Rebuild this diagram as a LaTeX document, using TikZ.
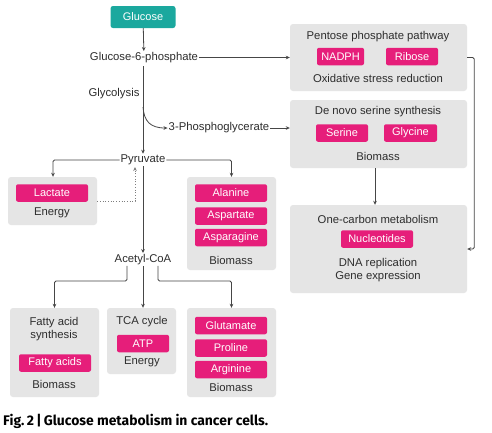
\documentclass[tikz,border=0pt]{standalone}
\usepackage{fontspec}
\setmainfont{Liberation Sans}
\newfontfamily\capfont{Fira Sans}
\usetikzlibrary{arrows.meta,calc}
\definecolor{teal1}{RGB}{27,168,158}
\definecolor{pink1}{RGB}{230,30,122}
\definecolor{boxgray}{RGB}{229,229,229}
\definecolor{txt}{RGB}{45,45,45}
\definecolor{ln}{RGB}{70,70,70}
\tikzset{
  lbl/.style={text=txt,font=\fontsize{11.3}{13}\selectfont,inner sep=1pt},
  graybox/.style={fill=boxgray,rounded corners=3pt,inner sep=0pt},
  pinkbox/.style={fill=pink1,text=white,rounded corners=2pt,inner sep=0pt,minimum height=17.5pt,font=\fontsize{11}{13}\selectfont},
  conn/.style={draw=ln,line width=0.8pt,-{Stealth[length=4pt,width=3.6pt]}},
  dotconn/.style={draw=ln!70,line width=0.7pt,dotted,-{Stealth[length=4pt,width=3.6pt]}}
}
\begin{document}
\begin{tikzpicture}[x=1pt,y={(0,-1pt)}]
\useasboundingbox[fill=white] (0,0) rectangle (492,432);
% main chain
\node[fill=teal1,text=white,rounded corners=2.5pt,minimum width=65pt,minimum height=22pt,inner sep=0pt,font=\fontsize{11}{13}\selectfont] (glc) at (143,17) {Glucose};
\node[lbl] (g6p) at (144,57.5) {Glucose-6-phosphate};
\node[lbl] (glyco) at (114,94) {Glycolysis};
\node[lbl] (pg3) at (219,128) {3-Phosphoglycerate};
\node[lbl] (pyr) at (143,160) {Pyruvate};
\node[lbl] (acoa) at (143,259.5) {Acetyl-CoA};
\coordinate (gstart) at (143,66);
\coordinate (branch) at (143,107);
\coordinate (dottop) at (135,167);
% right column
\node[graybox,minimum width=177pt,minimum height=67pt] (ppp) at (378.5,57.5) {};
\node[lbl] (ppptitle) at (378,37) {Pentose phosphate pathway};
\node[pinkbox,minimum width=47pt] (nadph) at (340.5,56.5) {NADPH};
\node[pinkbox,minimum width=52pt] (ribose) at (412,56.5) {Ribose};
\node[lbl] (oxid) at (378,78) {Oxidative stress reduction};
\node[graybox,minimum width=177pt,minimum height=68pt] (ser) at (378.5,134) {};
\node[lbl] (sertitle) at (378,112) {De novo serine synthesis};
\node[pinkbox,minimum width=52pt] (serine) at (342,133) {Serine};
\node[pinkbox,minimum width=53pt] (glycine) at (410.5,133) {Glycine};
\node[lbl] (serbio) at (378,156) {Biomass};
\node[graybox,minimum width=177pt,minimum height=88pt] (onec) at (378.5,249) {};
\node[lbl] (onectitle) at (378,219) {One-carbon metabolism};
\node[pinkbox,minimum width=72pt] (nucl) at (377,239) {Nucleotides};
\node[lbl,align=center,font=\fontsize{11.3}{12.5}\selectfont] (dna) at (378,270) {DNA replication\\Gene expression};
% lactate
\node[graybox,minimum width=89pt,minimum height=48pt] (lacbox) at (52.5,201) {};
\node[pinkbox,minimum width=72pt] (lactate) at (52,193) {Lactate};
\node[lbl] (lacen) at (52,213) {Energy};
% amino acids
\node[graybox,minimum width=89pt,minimum height=93pt] (aabox) at (231.5,223.5) {};
\node[pinkbox,minimum width=72pt] (ala) at (231,193) {Alanine};
\node[pinkbox,minimum width=72pt] (asp) at (231,216) {Aspartate};
\node[pinkbox,minimum width=72pt] (asn) at (231,237.5) {Asparagine};
\node[lbl] (aabio) at (231,260) {Biomass};
% bottom row
\node[graybox,minimum width=89pt,minimum height=89pt] (fabox) at (54.5,352.5) {};
\node[lbl,align=center,font=\fontsize{11.3}{12.5}\selectfont] (fatitle) at (54,329) {Fatty acid\\synthesis};
\node[pinkbox,minimum width=72pt] (fa) at (55,363) {Fatty acids};
\node[lbl] (fabio) at (54,384.5) {Biomass};
\node[graybox,minimum width=69pt,minimum height=66pt] (tcabox) at (141.5,341) {};
\node[lbl] (tcatitle) at (142,322) {TCA cycle};
\node[pinkbox,minimum width=52pt] (atp) at (143,343.5) {ATP};
\node[lbl] (tcaen) at (142,362) {Energy};
\node[graybox,minimum width=89pt,minimum height=89pt] (glubox) at (231.5,352.5) {};
\node[pinkbox,minimum width=72pt] (glu) at (231,325.5) {Glutamate};
\node[pinkbox,minimum width=72pt] (pro) at (231,348) {Proline};
\node[pinkbox,minimum width=72pt] (arg) at (231,369.5) {Arginine};
\node[lbl] (glubio) at (231,387.5) {Biomass};
% caption
\node[anchor=west,inner sep=0pt,text=black] (cap) at (3,421) {\resizebox{265pt}{!}{\capfont\bfseries Fig.\,2\,|\,Glucose metabolism in cancer cells.}};
% connectors
\draw[conn] (glc) -- (g6p);
\draw[conn] (gstart) -- (pyr);
\draw[conn] (branch) .. controls (144,121) and (150,128) .. (pg3.west);
\draw[conn] (g6p.east) -- (ppp.west);
\draw[conn] (pg3.east) -- (pg3.east -| ser.west);
\draw[conn] (ser.south -| 375,0) -- (onec.north -| 375,0);
\draw[conn,rounded corners=1.5pt] (ppp.east) -- ++(7,0) |- (onec.east);
\draw[conn,rounded corners=1.5pt] (pyr.west) -| (lacbox.north -| 53,0);
\draw[conn,rounded corners=1.5pt] (pyr.east) -| (aabox.north);
\draw[dotconn] (lacbox.east) -| (dottop);
\draw[conn] (pyr.south) -- (acoa.north);
\draw[conn,rounded corners=1.5pt] ([xshift=-16pt]acoa.south) |- ++(-20,15) -| (fabox.north);
\draw[conn] (acoa.south) -- (tcabox.north -| acoa.south);
\draw[conn,rounded corners=1.5pt] ([xshift=15pt]acoa.south) |- ++(20,15) -| (glubox.north);
\end{tikzpicture}
\end{document}
